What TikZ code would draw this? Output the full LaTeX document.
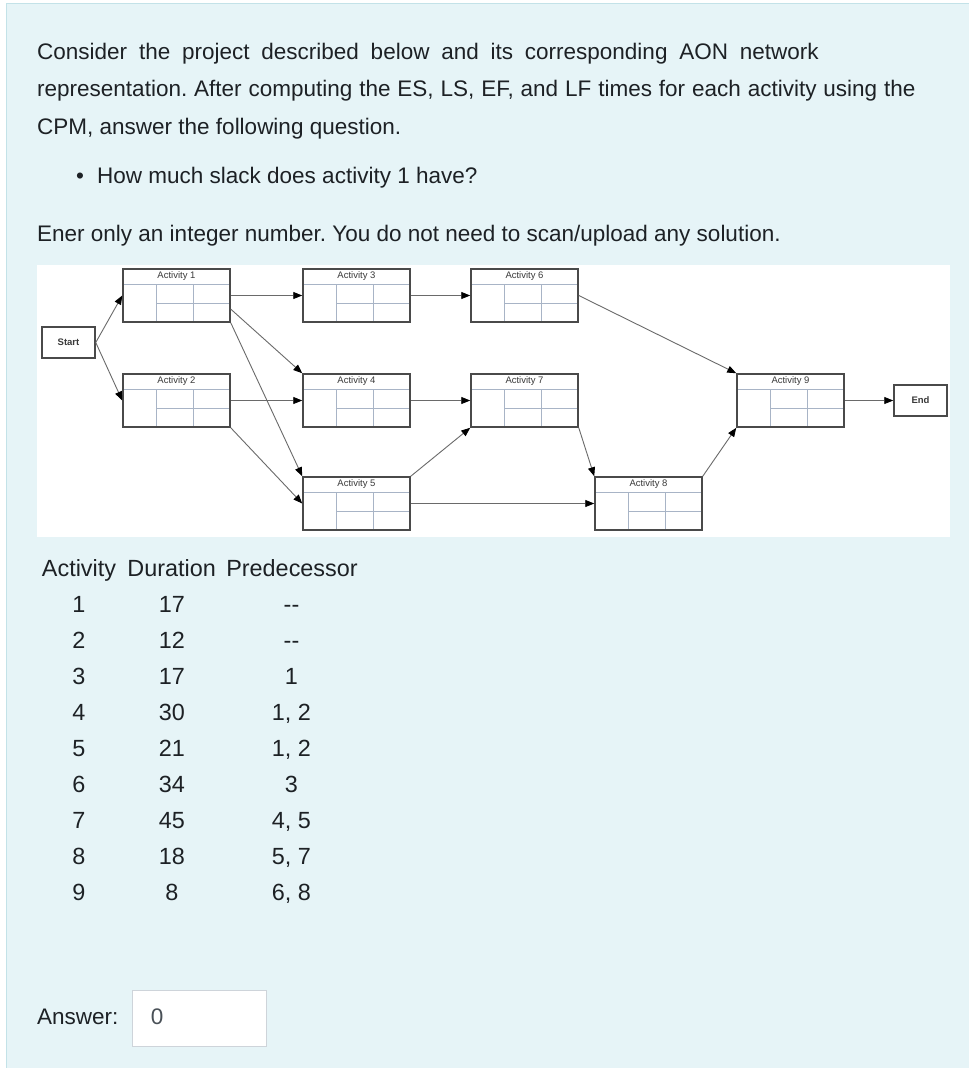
\documentclass[tikz,border=0pt]{standalone}
\usepackage{fontspec}
\setmainfont{Liberation Sans}
\usetikzlibrary{
  arrows.meta,
  calc,
  positioning
}
\definecolor{ink}{HTML}{1D2125}
\definecolor{panel}{HTML}{E6F4F7}
\definecolor{panelrule}{HTML}{C3E2E8}
\definecolor{boxrule}{HTML}{4A4A4A}
\definecolor{cellrule}{HTML}{A8B4C6}
\definecolor{linkgray}{HTML}{6A6A6A}
\definecolor{fieldrule}{HTML}{CED4DA}
\definecolor{fieldtext}{HTML}{495057}
\definecolor{tinytext}{HTML}{3A3A3A}
\newcommand{\bodyfont}{\fontsize{22.5}{27}\selectfont}
\newcommand{\tablefont}{\fontsize{23.4}{28}\selectfont}
\newcommand{\tinyfont}{\fontsize{9.5}{11}\selectfont}
\frenchspacing
\tikzset{
  link/.style={
    -{Triangle[length=9pt,width=7pt,color=black]},
    line width=0.9pt,
    draw=linkgray
  },
  prose/.style={
    anchor=base west,
    inner sep=0pt,
    text=ink,
    font=\bodyfont
  },
  cell/.style={
    anchor=base,
    inner sep=0pt,
    text=ink,
    font=\tablefont
  },
  endpoint/.style={
    draw=boxrule,
    fill=white,
    line width=1.5pt,
    minimum width=53pt,
    minimum height=31pt,
    inner sep=0pt,
    text=tinytext,
    font=\tinyfont\bfseries
  },
  acttitle/.style={
    anchor=center,
    yshift=-7.5pt,
    inner sep=0pt,
    text=tinytext,
    font=\tinyfont
  },
  actbox/.style={
    draw=boxrule,
    fill=white,
    line width=1.5pt,
    minimum width=107pt,
    minimum height=53pt,
    inner sep=0pt,
    label={[acttitle]north:#1},
    path picture={
      \draw[cellrule, line width=0.9pt]
        ([yshift=-15pt]path picture bounding box.north west) --
        ([yshift=-15pt]path picture bounding box.north east)
        ([xshift=33pt,yshift=-15pt]path picture bounding box.north west) --
        ([xshift=33pt]path picture bounding box.south west)
        ([xshift=70pt,yshift=-15pt]path picture bounding box.north west) --
        ([xshift=70pt]path picture bounding box.south west)
        ([xshift=33pt,yshift=-34pt]path picture bounding box.north west) --
        ([yshift=-34pt]path picture bounding box.north east);
    }
  },
  inputbox/.style={
    draw=fieldrule,
    fill=white,
    line width=0.8pt,
    minimum width=134pt,
    minimum height=56pt,
    inner sep=0pt
  }
}

\begin{document}
\begin{tikzpicture}[x=1pt, y=-1pt]
  \useasboundingbox (0,0) rectangle (969,1068);
  \fill[white] (0,0) rectangle (969,1068);
  \fill[panel] (6,3) rectangle (969,1068);
  \draw[panelrule, line width=1pt] (6,1068) -- (6,3) -- (969,3);

  % question text
  \node[prose] (intro1) at (37,59) {\spaceskip=11.8pt
    Consider the project described below and its corresponding AON network};
  \node[prose] (intro2) at (37,96.5) {\spaceskip=6.9pt
    representation. After computing the ES, LS, EF, and LF times for each activity using the};
  \node[prose] (intro3) at (37,134) {CPM, answer the following question.};
  \node[prose, anchor=base] (dot) at (80,183) {•};
  \node[prose] (ask) at (97,183) {How much slack does activity 1 have?};
  \node[prose] (note) at (37,241.7)
    {Ener only an integer number. You do not need to scan/upload any solution.};

  % AON network
  \fill[white] (37,265) rectangle (950,537);
  \node[endpoint] (start) at (68.5,342.5) {Start};
  \node[actbox=Activity 1] (a1) at (176.5,295.5) {};
  \node[actbox=Activity 2, below=50.5pt of a1] (a2) {};
  \node[actbox=Activity 3, right=71.5pt of a1] (a3) {};
  \node[actbox=Activity 4, below=50.5pt of a3] (a4) {};
  \node[actbox=Activity 5, below=48.5pt of a4] (a5) {};
  \node[actbox=Activity 6, right=59.5pt of a3] (a6) {};
  \node[actbox=Activity 7, below=50.5pt of a6] (a7) {};
  \node[actbox=Activity 8, right=183.5pt of a5] (a8) {};
  \node[actbox=Activity 9, right=157.5pt of a7] (a9) {};
  \node[endpoint, right=48.5pt of a9] (finish) {End};

  \draw[link] (start.east) -- (a1.west);
  \draw[link] (start.east) -- (a2.west);
  \draw[link] (a1.east) -- (a3.west);
  \draw[link] ($(a1.east)!0.5!(a1.south east)$) -- (a4.north west);
  \draw[link] (a1.south east) -- (a5.north west);
  \draw[link] (a2.east) -- (a4.west);
  \draw[link] (a2.south east) -- (a5.west);
  \draw[link] (a3.east) -- (a6.west);
  \draw[link] (a4.east) -- (a7.west);
  \draw[link] (a5.north east) -- (a7.south west);
  \draw[link] (a5.east) -- (a8.west);
  \draw[link] (a7.south east) -- (a8.north west);
  \draw[link] (a6.east) -- (a9.north west);
  \draw[link] (a8.north east) -- (a9.south west);
  \draw[link] (a9.east) -- (finish.west);

  % data table
  \node[cell] (head-act) at (79,576.7) {Activity};
  \node[cell] (head-dur) at (171.7,576.7) {Duration};
  \node[cell] (head-pred) at (292,576.7) {Predecessor};
  \foreach \act/\dur/\pred [count=\i from 0] in
    {1/17/-{}-, 2/12/-{}-, 3/17/1, 4/30/{1, 2}, 5/21/{1, 2},
     6/34/3, 7/45/{4, 5}, 8/18/{5, 7}, 9/8/{6, 8}} {
    \node[cell] (act-\act) at (79,612.3+36*\i) {\act};
    \node[cell] (dur-\act) at (172,612.3+36*\i) {\dur};
    \node[cell] (pred-\act) at (291.5,612.3+36*\i) {\pred};
  }

  % answer field
  \node[prose] (answer) at (37,1024.3) {Answer:};
  \node[inputbox, anchor=north west] (field) at (131.5,989.5) {};
  \node[prose, text=fieldtext] (value) at (150.7,1024.3) {0};
\end{tikzpicture}
\end{document}
